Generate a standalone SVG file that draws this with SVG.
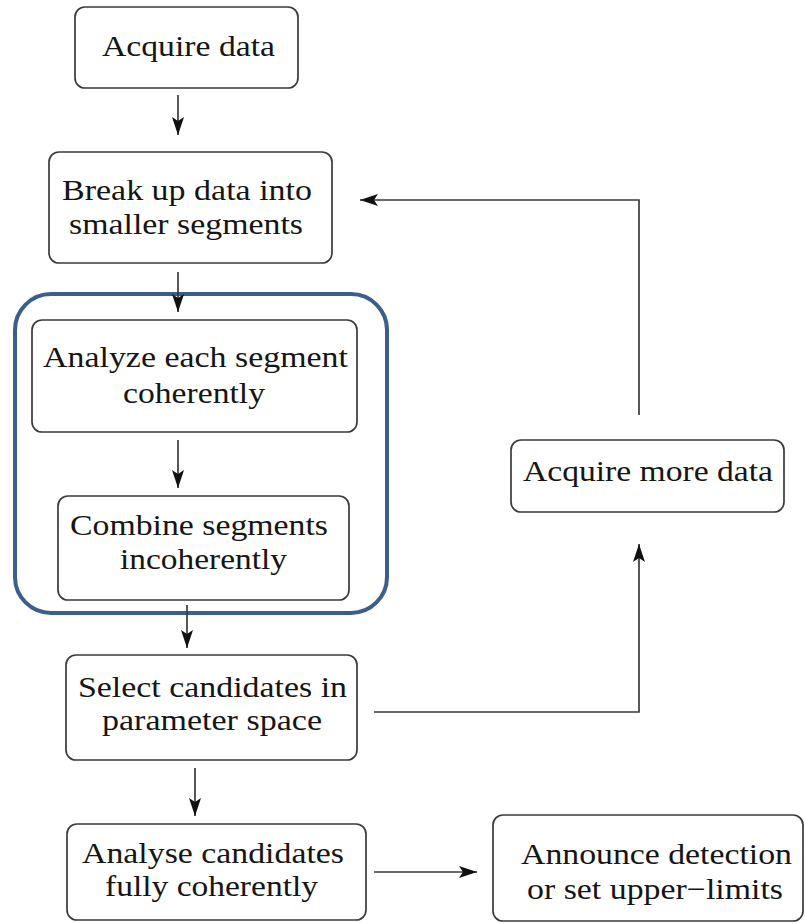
<svg xmlns="http://www.w3.org/2000/svg" width="805" height="923" viewBox="0 0 805 923">
  <style>
    .box { fill: #ffffff; stroke: #3a3a3a; stroke-width: 1.7; }
    .group { fill: none; stroke: #3b5e8c; stroke-width: 4; }
    .lbl { font-family: "Liberation Serif", "Times New Roman", serif; font-size: 30px; fill: #151515; text-anchor: middle; }
    .wire { fill: none; stroke: #3a3a3a; stroke-width: 1.7; }
  </style>
  <defs>
    <marker id="head" markerUnits="userSpaceOnUse" markerWidth="18" markerHeight="12" refX="18" refY="6" orient="auto">
      <path d="M0,0 L18,6 L0,12 L4,6 z" fill="#111111"/>
    </marker>
  </defs>

  <rect width="805" height="923" fill="#ffffff"/>

  <!-- grouping frame around the per-segment stages -->
  <g id="segment-stage">
    <rect class="group" x="15" y="294" width="372" height="319" rx="36" ry="36"/>
  </g>

  <g id="acquire-data">
    <rect class="box" x="75" y="7" width="223" height="81" rx="10"/>
    <text class="lbl" x="188.5" y="56" textLength="173" lengthAdjust="spacingAndGlyphs">Acquire data</text>
  </g>

  <g id="break-up">
    <rect class="box" x="49" y="152" width="283" height="111" rx="10"/>
    <text class="lbl" x="187" y="200" textLength="250" lengthAdjust="spacingAndGlyphs">Break up data into</text>
    <text class="lbl" x="186" y="234" textLength="234" lengthAdjust="spacingAndGlyphs">smaller segments</text>
  </g>

  <g id="analyze-segment">
    <rect class="box" x="32" y="320" width="325" height="112" rx="10"/>
    <text class="lbl" x="195.5" y="367" textLength="305" lengthAdjust="spacingAndGlyphs">Analyze each segment</text>
    <text class="lbl" x="194" y="403" textLength="142" lengthAdjust="spacingAndGlyphs">coherently</text>
  </g>

  <g id="combine-segments">
    <rect class="box" x="58" y="496" width="291" height="104" rx="10"/>
    <text class="lbl" x="199" y="535" textLength="258" lengthAdjust="spacingAndGlyphs">Combine segments</text>
    <text class="lbl" x="203.5" y="569" textLength="167" lengthAdjust="spacingAndGlyphs">incoherently</text>
  </g>

  <g id="select-candidates">
    <rect class="box" x="66" y="655" width="291" height="105" rx="10"/>
    <text class="lbl" x="212.5" y="697" textLength="269" lengthAdjust="spacingAndGlyphs">Select candidates in</text>
    <text class="lbl" x="212" y="730" textLength="220" lengthAdjust="spacingAndGlyphs">parameter space</text>
  </g>

  <g id="analyse-candidates">
    <rect class="box" x="67" y="824" width="299" height="96" rx="10"/>
    <text class="lbl" x="213" y="863" textLength="262" lengthAdjust="spacingAndGlyphs">Analyse candidates</text>
    <text class="lbl" x="211.5" y="896" textLength="213" lengthAdjust="spacingAndGlyphs">fully coherently</text>
  </g>

  <g id="acquire-more">
    <rect class="box" x="511" y="440" width="273" height="72" rx="10"/>
    <text class="lbl" x="648" y="481" textLength="250" lengthAdjust="spacingAndGlyphs">Acquire more data</text>
  </g>

  <g id="announce">
    <rect class="box" x="493" y="815" width="310" height="106" rx="10"/>
    <text class="lbl" x="656.5" y="864" textLength="271" lengthAdjust="spacingAndGlyphs">Announce detection</text>
    <text class="lbl" x="655" y="899" textLength="256" lengthAdjust="spacingAndGlyphs">or set upper−limits</text>
  </g>

  <g id="connectors">
    <path class="wire" d="M178,95 L178,135" marker-end="url(#head)"/>
    <path class="wire" d="M178,272 L178,312" marker-end="url(#head)"/>
    <path class="wire" d="M178,440 L178,488" marker-end="url(#head)"/>
    <path class="wire" d="M187,605 L187,648" marker-end="url(#head)"/>
    <path class="wire" d="M195,768 L195,816" marker-end="url(#head)"/>
    <path class="wire" d="M374,872 L477,872" marker-end="url(#head)"/>
    <path class="wire" d="M374,712 L639,712 L639,544" marker-end="url(#head)"/>
    <path class="wire" d="M639,415 L639,200 L360,200" marker-end="url(#head)"/>
  </g>
</svg>
